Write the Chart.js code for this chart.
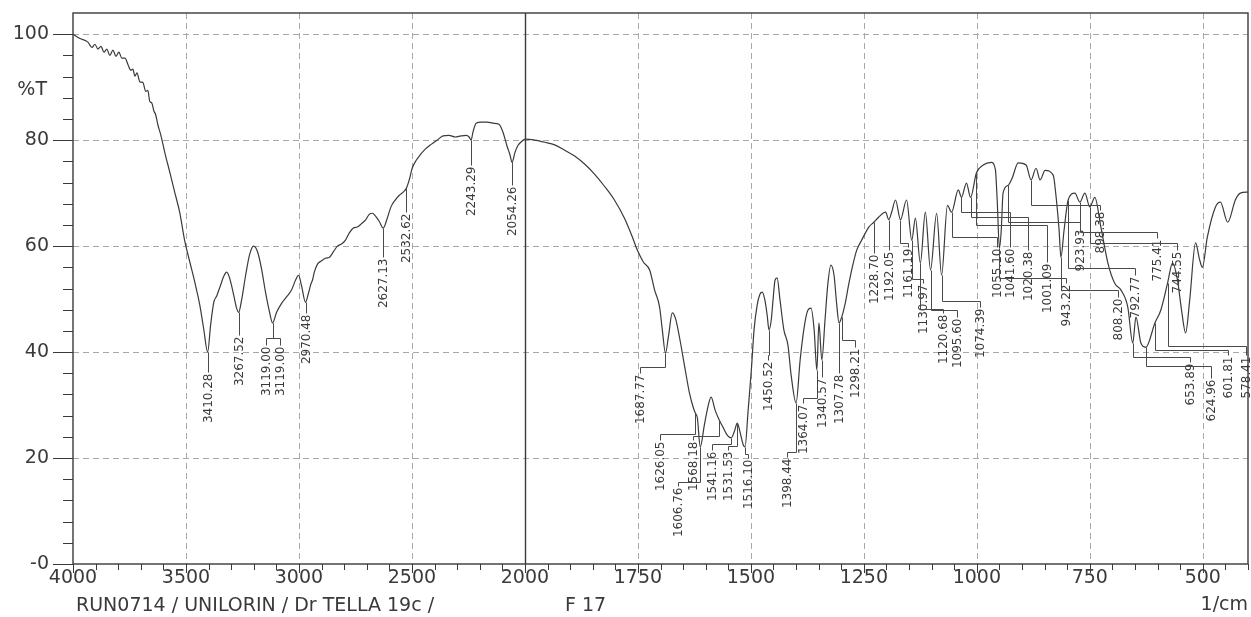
<!DOCTYPE html>
<html>
<head>
<meta charset="utf-8">
<title>IR spectrum RUN0714</title>
<script src="https://cdn.jsdelivr.net/npm/chart.js@4.4.1/dist/chart.umd.min.js"></script>
<style>
  html, body { margin: 0; padding: 0; background: #fff; }
  canvas { display: block; }
</style>
</head>
<body>
<canvas id="ir-chart" width="1251" height="617"></canvas>
<script>
const FONT = 'DejaVu Sans';
const INK = '#3a3a3a';

// the axis is split at 2000: 4000-2000 is drawn at half the scale of 2000-400
const toPos = w => w >= 2000 ? 4000 - w : 2000 + 2 * (2000 - w);
const fromPos = p => p <= 2000 ? 4000 - p : 2000 - (p - 2000) / 2;

const xTickWaves = [4000, 3500, 3000, 2500, 2000, 1750, 1500, 1250, 1000, 750, 500];
const yTickValues = [0, 20, 40, 60, 80, 100];

// 4000 - 2000 1/cm
const highWaves = [4000, 3969, 3934, 3916, 3903, 3890, 3876, 3863, 3850, 3837,
  3823, 3810, 3797, 3784, 3770, 3757, 3744, 3735, 3726, 3717,
  3704, 3691, 3678, 3669, 3660, 3651, 3642, 3634, 3625, 3611,
  3594, 3572, 3550, 3528, 3506, 3483, 3461, 3439, 3422, 3404,
  3391, 3377, 3364, 3347, 3333, 3320, 3307, 3289, 3276, 3267,
  3254, 3236, 3219, 3201, 3183, 3166, 3148, 3130, 3117, 3099,
  3077, 3055, 3033, 3015, 3002, 2989, 2971, 2958, 2949, 2940,
  2932, 2918, 2901, 2883, 2865, 2848, 2830, 2812, 2795, 2777,
  2759, 2742, 2724, 2706, 2689, 2675, 2662, 2645, 2627, 2609,
  2592, 2574, 2556, 2539, 2525, 2512, 2499, 2481, 2464, 2441,
  2415, 2389, 2362, 2336, 2309, 2283, 2260, 2247, 2238, 2230,
  2216, 2194, 2168, 2141, 2115, 2097, 2080, 2066, 2057, 2044,
  2031, 2013, 2000];
const highT = [100, 99.2, 98.5, 97.5, 98.1, 97.2, 97.7, 96.6, 97.2, 96.0,
  97.0, 95.8, 96.6, 95.5, 95.5, 94.3, 93.2, 93.4, 92.1, 92.7,
  91.0, 90.9, 89.2, 89.4, 87.3, 87.0, 85.5, 84.8, 83.0, 80.9,
  77.7, 74.0, 70.2, 66.4, 61.1, 57.0, 53.2, 48.9, 44.5, 40.0,
  45.1, 49.4, 50.6, 52.6, 54.3, 55.1, 54.0, 50.8, 48.3, 47.5,
  49.8, 54.5, 58.3, 60.0, 58.9, 55.8, 51.3, 47.5, 45.5, 47.5,
  49.2, 50.4, 51.7, 53.6, 54.5, 52.6, 49.4, 51.1, 52.6, 53.6,
  55.1, 56.6, 57.2, 57.7, 57.9, 58.9, 60.0, 60.4, 61.1, 62.5,
  63.4, 63.6, 64.2, 64.9, 66.0, 66.2, 65.7, 64.7, 63.4, 65.3,
  67.5, 68.7, 69.6, 70.2, 70.9, 72.5, 74.7, 76.2, 77.2, 78.3,
  79.2, 80.0, 80.8, 80.9, 80.6, 80.8, 80.9, 80.6, 80.0, 81.5,
  83.2, 83.4, 83.4, 83.2, 83.0, 81.5, 79.0, 77.2, 75.8, 77.7,
  79.0, 79.8, 80.2];

// 2000 - 400 1/cm
const lowWaves = [1978, 1956, 1934, 1912, 1890, 1868, 1846, 1824, 1802, 1780,
  1764, 1751, 1738, 1724, 1713, 1702, 1696, 1689, 1682, 1674,
  1667, 1658, 1647, 1636, 1627, 1623, 1618.5, 1612, 1603, 1596.5,
  1588, 1579, 1570, 1561, 1552, 1543.5, 1537, 1530, 1524, 1517,
  1513, 1506, 1499, 1493, 1486, 1480, 1475, 1469, 1464, 1460,
  1455, 1451, 1446.5, 1442, 1435.5, 1427, 1418, 1411, 1400, 1391,
  1383, 1374, 1367, 1360, 1354, 1349.5, 1343, 1336, 1330, 1323,
  1316, 1310, 1305, 1299, 1292, 1283, 1274.5, 1266, 1255, 1239,
  1228, 1217, 1202, 1195, 1188.5, 1180, 1169, 1155.5, 1144, 1136,
  1125, 1114, 1102.5, 1089, 1078, 1065, 1056, 1041, 1034, 1023,
  1014, 1001, 986, 968, 959, 955, 950, 946, 942, 930.5,
  922, 908.5, 891, 880, 869, 860, 849, 831, 825, 818,
  814, 807, 798, 783, 772, 761, 750, 739, 725.5, 710,
  695, 681, 666, 655, 648, 637, 626, 606, 593, 578,
  567, 556, 547, 538, 529, 516, 507, 501, 490, 472,
  461, 445, 428, 417, 400];
const lowT = [80.0, 79.6, 79.1, 78.1, 77.0, 75.5, 73.6, 71.3, 68.7, 65.3,
  62.1, 59.2, 57.0, 55.5, 51.7, 48.5, 44.2, 39.8, 43.2, 47.4,
  46.4, 42.8, 37.5, 32.3, 29.4, 28.5, 27.6, 22.1, 26.2, 29.1,
  31.5, 29.0, 27.2, 25.7, 24.3, 23.8, 24.9, 26.6, 24.9, 22.5,
  22.1, 29.1, 36.6, 44.2, 48.9, 50.9, 51.3, 49.8, 47.0, 44.2,
  46.0, 49.8, 53.6, 54.0, 49.8, 44.2, 41.3, 35.7, 30.4, 38.5,
  44.2, 47.9, 48.3, 44.2, 36.6, 45.5, 38.5, 46.0, 52.6, 56.4,
  54.5, 48.9, 45.5, 46.6, 48.9, 53.0, 56.4, 59.2, 61.1, 63.6,
  64.5, 65.5, 66.4, 65.0, 66.4, 68.7, 65.0, 68.7, 61.1, 65.3,
  56.8, 66.4, 55.5, 66.2, 54.5, 67.7, 66.4, 70.6, 69.2, 71.9,
  69.2, 73.8, 75.3, 75.8, 74.5, 68.7, 59.6, 63.0, 70.0, 71.5,
  72.8, 75.7, 75.3, 72.5, 74.7, 72.5, 74.3, 73.4, 69.6, 63.0,
  57.9, 63.0, 68.7, 70.0, 68.3, 70.0, 67.4, 69.2, 63.6, 56.8,
  53.0, 51.7, 48.5, 41.7, 46.6, 41.7, 40.9, 45.5, 47.9, 53.0,
  56.8, 53.6, 47.9, 43.6, 49.8, 60.6, 57.4, 56.0, 61.7, 67.4,
  68.3, 64.5, 68.7, 70.0, 70.2];

// peak annotations: leader starts on the curve at peakWave,
// runs down to elbowT, across to labelWave, then down to the text top at labelTopT
const peakText = ['3410.28', '3267.52', '3119.00', '3119.00', '2970.48', '2627.13', '2532.62', '2243.29', '2054.26',
  '1687.77', '1626.05', '1606.76', '1568.18', '1541.16', '1531.53', '1516.10', '1450.52', '1398.44', '1364.07',
  '1340.57', '1307.78', '1298.21', '1228.70', '1192.05', '1161.19', '1130.97', '1120.68', '1095.60', '1074.39',
  '1055.10', '1041.60', '1020.38', '1001.09', '943.22', '923.93', '898.38', '808.20', '792.77', '775.41',
  '744.55', '653.89', '624.96', '601.81', '578.41'];
const peakWave = [3404, 3267, 3117, 3117, 2971, 2627, 2525, 2238, 2057,
  1689, 1623, 1612, 1570, 1543.5, 1530, 1513, 1460, 1400, 1354,
  1343, 1305, 1299, 1228, 1195, 1169, 1144, 1125, 1102.5, 1078,
  1056, 1034, 1014, 1001, 950, 930.5, 880, 814, 798, 772,
  750, 655, 626, 606, 578];
const labelWave = [3404, 3267, 3146, 3084, 2971, 2627, 2525, 2238, 2057,
  1745, 1701, 1661, 1628, 1586, 1551, 1506, 1462, 1420, 1385,
  1343, 1305, 1270, 1228, 1195, 1153, 1119, 1075, 1044, 993,
  955, 927, 887, 845, 803, 772, 728, 688, 650, 601,
  557, 528, 482, 444, 404];
const elbowT = [36.2, 43.2, 42.6, 42.6, 47.4, 57.9, 66.4, 75.3, 71.5,
  37.2, 24.5, 15.5, 24.2, 22.6, 22.3, 20.8, 39.4, 21.1, 31.3,
  35.3, 36.0, 42.3, 58.7, 59.2, 60.6, 53.8, 48.1, 47.9, 49.6,
  61.7, 66.4, 65.5, 64.0, 54.0, 64.5, 67.7, 51.7, 55.8, 62.6,
  60.6, 39.1, 37.4, 40.4, 41.1];
const labelTopT = [36.2, 43.2, 41.3, 41.3, 47.4, 57.9, 66.4, 75.3, 71.5,
  36.0, 23.4, 14.7, 23.4, 21.5, 21.5, 20.0, 38.5, 20.2, 30.4,
  35.3, 36.0, 40.9, 58.7, 59.2, 59.8, 53.0, 47.4, 46.6, 48.5,
  59.8, 59.8, 59.2, 57.0, 53.0, 63.4, 66.8, 50.4, 54.5, 61.5,
  59.2, 38.1, 35.1, 39.4, 39.4];

const waves = highWaves.concat(lowWaves);
const trans = highT.concat(lowT);

function curveAt(w) {
  for (let i = 1; i < waves.length; i++) {
    if (w >= waves[i]) {
      const f = (waves[i - 1] - w) / (waves[i - 1] - waves[i]);
      return trans[i - 1] + f * (trans[i] - trans[i - 1]);
    }
  }
  return trans[trans.length - 1];
}

function seg(ctx, x1, y1, x2, y2) {
  ctx.beginPath();
  ctx.moveTo(x1, y1);
  ctx.lineTo(x2, y2);
  ctx.stroke();
}

const irFrame = {
  id: 'irFrame',
  beforeDatasetsDraw(chart) {
    const { ctx, chartArea: a, scales: { x, y } } = chart;
    const px = w => Math.round(x.getPixelForValue(toPos(w))) + 0.5;
    const py = t => Math.round(y.getPixelForValue(t)) + 0.5;
    ctx.save();

    // dashed grid
    ctx.strokeStyle = '#a8a8a8';
    ctx.lineWidth = 1;
    ctx.setLineDash([6, 4]);
    xTickWaves.filter(w => w !== 4000 && w !== 2000).forEach(w => seg(ctx, px(w), a.top, px(w), a.bottom));
    yTickValues.filter(t => t > 0).forEach(t => seg(ctx, a.left, py(t), a.right, py(t)));
    ctx.setLineDash([]);

    // frame and the split line at 2000
    ctx.strokeStyle = INK;
    ctx.lineWidth = 1.4;
    ctx.strokeRect(a.left, a.top, a.right - a.left, a.bottom - a.top);
    seg(ctx, px(2000), a.top, px(2000), a.bottom);

    // tick marks
    ctx.lineWidth = 1;
    for (let t = 0; t <= 100; t += 4) {
      const len = t % 20 === 0 ? 20 : 10;
      seg(ctx, a.left - len, py(t), a.left, py(t));
    }
    for (let w = 4000; w >= 400; w -= (w > 2000 ? 100 : 50)) {
      const major = w > 2000 ? w % 500 === 0 : w % 250 === 0;
      seg(ctx, px(w), a.bottom, px(w), a.bottom + (major ? 9 : 6));
    }
    ctx.restore();
  },
  afterDatasetsDraw(chart) {
    const { ctx, chartArea: a, scales: { x, y } } = chart;
    const px = w => Math.round(x.getPixelForValue(toPos(w))) + 0.5;
    const py = t => Math.round(y.getPixelForValue(t)) + 0.5;
    ctx.save();

    // peak leaders and labels
    ctx.strokeStyle = '#4a4a4a';
    ctx.lineWidth = 1;
    ctx.fillStyle = INK;
    ctx.font = '12px "' + FONT + '"';
    ctx.textAlign = 'right';
    ctx.textBaseline = 'middle';
    peakText.forEach((txt, i) => {
      const x0 = px(peakWave[i]);
      const y0 = py(curveAt(peakWave[i]));
      const ye = py(elbowT[i]);
      const x1 = px(labelWave[i]);
      const y1 = py(labelTopT[i]);
      ctx.beginPath();
      ctx.moveTo(x0, y0);
      ctx.lineTo(x0, ye);
      ctx.lineTo(x1, ye);
      ctx.lineTo(x1, y1);
      ctx.stroke();
      ctx.save();
      ctx.translate(x1, y1 + 1);
      ctx.rotate(-Math.PI / 2);
      ctx.fillText(txt, 0, 0);
      ctx.restore();
    });

    // axis titles and run info
    ctx.font = '19px "' + FONT + '"';
    ctx.textBaseline = 'middle';
    ctx.textAlign = 'right';
    ctx.fillText('%T', a.left - 26, py(89.4));
    ctx.fillText('1/cm', a.right, 605);
    ctx.textAlign = 'left';
    ctx.fillText('RUN0714 / UNILORIN / Dr TELLA 19c /', a.left + 3, 606);
    ctx.fillText('F 17', 565, 606);
    ctx.restore();
  }
};

const ctx = document.getElementById('ir-chart').getContext('2d');

new Chart(ctx, {
  type: 'line',
  data: {
    datasets: [{
      data: waves.map((w, i) => ({ x: toPos(w), y: trans[i] })),
      borderColor: INK,
      borderWidth: 1.2,
      pointRadius: 0,
      cubicInterpolationMode: 'monotone',
      fill: false
    }]
  },
  options: {
    responsive: false,
    animation: false,
    layout: {
      padding: { top: 13, right: 3, bottom: 23, left: 0 }
    },
    plugins: {
      legend: { display: false },
      tooltip: { enabled: false }
    },
    scales: {
      x: {
        type: 'linear',
        min: 0,
        max: toPos(400),
        afterBuildTicks: scale => {
          scale.ticks = xTickWaves.map(w => ({ value: toPos(w) }));
        },
        afterFit: scale => {
          scale.height = 30;
          scale.paddingLeft = 0;
          scale.paddingRight = 0;
        },
        grid: { display: false, drawTicks: false },
        border: { display: false },
        ticks: {
          autoSkip: false,
          maxRotation: 0,
          padding: 3,
          color: INK,
          font: { family: FONT, size: 19 },
          callback: value => String(Math.round(fromPos(value)))
        }
      },
      y: {
        min: 0,
        max: 104,
        afterBuildTicks: scale => {
          scale.ticks = yTickValues.map(v => ({ value: v }));
        },
        afterFit: scale => {
          scale.width = 73;
          scale.paddingTop = 0;
          scale.paddingBottom = 0;
        },
        grid: { display: false, drawTicks: false },
        border: { display: false },
        ticks: {
          padding: 24,
          color: INK,
          font: { family: FONT, size: 19 },
          callback: value => value === 0 ? '-0' : value
        }
      }
    }
  },
  plugins: [irFrame]
});
</script>
</body>
</html>
